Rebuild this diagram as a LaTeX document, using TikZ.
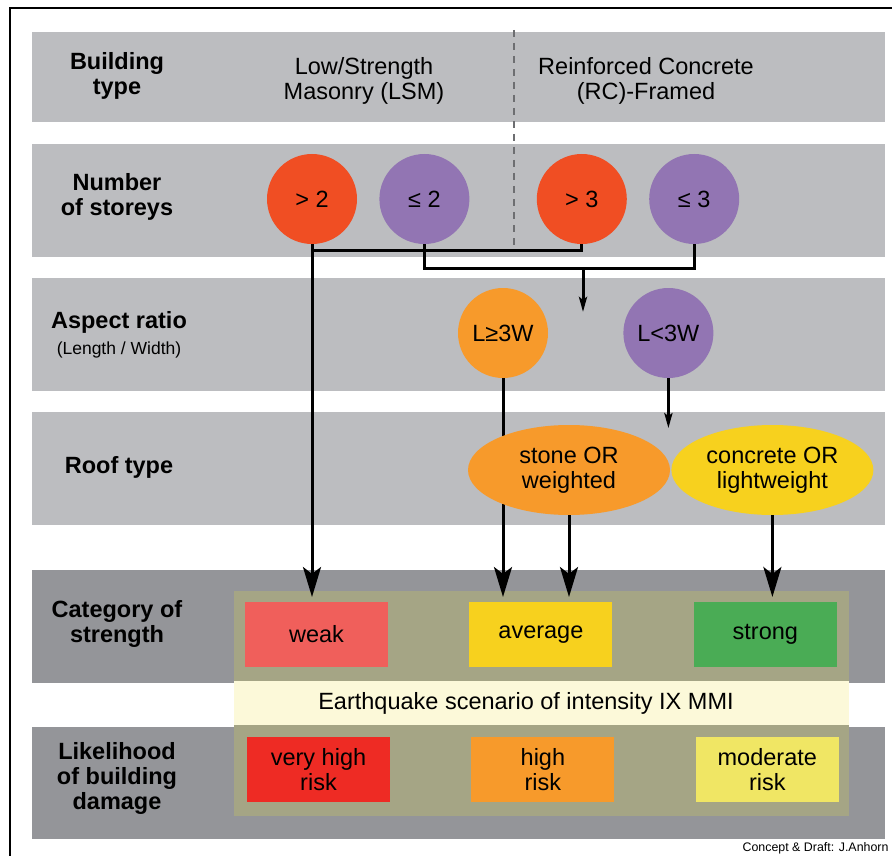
\documentclass[tikz,border=0pt]{standalone}
\usepackage{fontspec}
\setmainfont{Liberation Sans}
\usetikzlibrary{arrows.meta, positioning, shapes.geometric}
\definecolor{cband}{HTML}{BCBDC0}
\definecolor{cdark}{HTML}{949599}
\definecolor{colive}{HTML}{A5A585}
\definecolor{ccream}{HTML}{FCF9D9}
\definecolor{cred}{HTML}{F04E23}
\definecolor{cpurple}{HTML}{9275B3}
\definecolor{corange}{HTML}{F79A2B}
\definecolor{cyellow}{HTML}{F7D11E}
\definecolor{cweak}{HTML}{F05F5B}
\definecolor{cgreen}{HTML}{4AAC55}
\definecolor{cvhigh}{HTML}{EE2B24}
\definecolor{cmod}{HTML}{F0E664}
\definecolor{cdash}{HTML}{6D6E71}

\begin{document}
\begin{tikzpicture}[
  x=1pt, y=-1pt,
  font=\fontsize{23.5}{24.5}\selectfont,
  band/.style={fill=cband, minimum width=853pt, inner sep=0pt},
  dband/.style={band, fill=cdark},
  head/.style={font=\fontsize{23.5}{25}\selectfont\bfseries, align=center},
  storey/.style={circle, minimum size=90pt, inner sep=0pt},
  roof/.style={ellipse, minimum width=202pt, minimum height=90pt,
               inner sep=0pt, align=center},
  cat/.style={minimum width=143pt, minimum height=65pt,
              inner sep=0pt, align=center},
  link/.style={line width=3pt},
  arr/.style={link, -{Stealth[length=30pt, width=18pt, inset=7pt]}},
  sarr/.style={link, -{Stealth[length=15pt, width=8pt, inset=3pt]}},
  node distance=21pt and 81pt,
]
\path[use as bounding box, clip] (0,0) rectangle (892,856);
\draw[line width=2pt] (9.5,8.5) rectangle (920,880);

\node[band, minimum height=90pt, anchor=north west] (bType) at (32,32) {};
\node[band, minimum height=113pt, below=of bType] (bStorey) {};
\node[band, minimum height=113pt, below=of bStorey] (bAspect) {};
\node[band, minimum height=113pt, below=of bAspect] (bRoof) {};
\node[dband, minimum height=113pt, below=44pt of bRoof] (bCat) {};
\node[dband, minimum height=112pt, below=44pt of bCat] (bDamage) {};

\node[fill=colive, minimum width=615pt, minimum height=225pt, inner sep=0pt,
      anchor=north west] (zone) at (234,591) {};
\node[fill=ccream, minimum width=615pt, minimum height=44pt, inner sep=0pt,
      anchor=north west] (scen) at (234,681) {};
\node (scentext) at (526,703) {Earthquake scenario of intensity IX MMI};

\node[head] (hType) at (117,76) {Building\\type};
\node[head] (hStorey) at (117,197) {Number\\of storeys};
\node[head] (hAspect) at (119,335)
  {Aspect ratio\\[1pt]{\fontsize{17.5}{20}\selectfont\mdseries (Length / Width)}};
\node[head] (hRoof) at (119,467) {Roof type};
\node[head] (hCat) at (117,624) {Category of\\strength};
\node[head] (hDamage) at (117,778) {Likelihood\\of building\\damage};

\node[align=center] (lsm) at (364,81) {Low/Strength\\Masonry (LSM)};
\node[align=center] (rc) at (646,81) {Reinforced Concrete\\(RC)-Framed};
\coordinate (divtop) at (514,30);
\coordinate (divbot) at (514,245);
\draw[cdash, line width=2.5pt, dash pattern=on 7pt off 6pt] (divtop) -- (divbot);

\node[cat, fill=cweak] (weak) at (316.5,634.5) {weak};
\node[cat, fill=cyellow, right=of weak] (average) {average};
\node[cat, fill=cgreen, right=of average] (strong) {strong};
\node[cat, fill=cvhigh] (vhigh) at (318.5,769.5) {very high\\risk};
\node[cat, fill=corange, right=of vhigh] (high) {high\\risk};
\node[cat, fill=cmod, right=of high] (moderate) {moderate\\risk};

\node[storey, fill=cred] (gt2) at (312,199) {> 2};
\node[storey, fill=cpurple, right=22pt of gt2] (le2) {≤ 2};
\node[storey, fill=cred, right=67pt of le2] (gt3) {> 3};
\node[storey, fill=cpurple, right=22pt of gt3] (le3) {≤ 3};

\node[storey, fill=corange] (lge) at (503,333) {L≥3W};
\node[storey, fill=cpurple, right=75pt of lge] (llt) {L<3W};

\coordinate (jA) at (0,250);
\coordinate (jB) at (0,268);
\coordinate (split) at (583,268);
\coordinate (tips) at (0,597);

\draw[arr] (lge.south) -- (tips -| lge.south);

\node[roof, fill=corange] (stone) at (569,470) {stone OR\\weighted};
\node[roof, fill=cyellow, right=1pt of stone] (concrete) {concrete OR\\lightweight};

\draw[link] (gt3.south) |- (jA -| gt2.south);
\draw[link] (le2.south) |- (jB -| le3.south) -- (le3.south);
\draw[sarr] (split) -- ++(0,44);
\draw[arr] (gt2.south) -- (tips -| gt2.south);
\draw[sarr] (llt.south) -- ++(0,50);
\draw[arr] (stone.south) -- (tips -| stone.south);
\draw[arr] (concrete.south) -- (tips -| concrete.south);

\node[font=\fontsize{12.4}{14}\selectfont, anchor=east] (credit) at (892,848)
  {Concept \& Draft: J.Anhorn};
\end{tikzpicture}
\end{document}
